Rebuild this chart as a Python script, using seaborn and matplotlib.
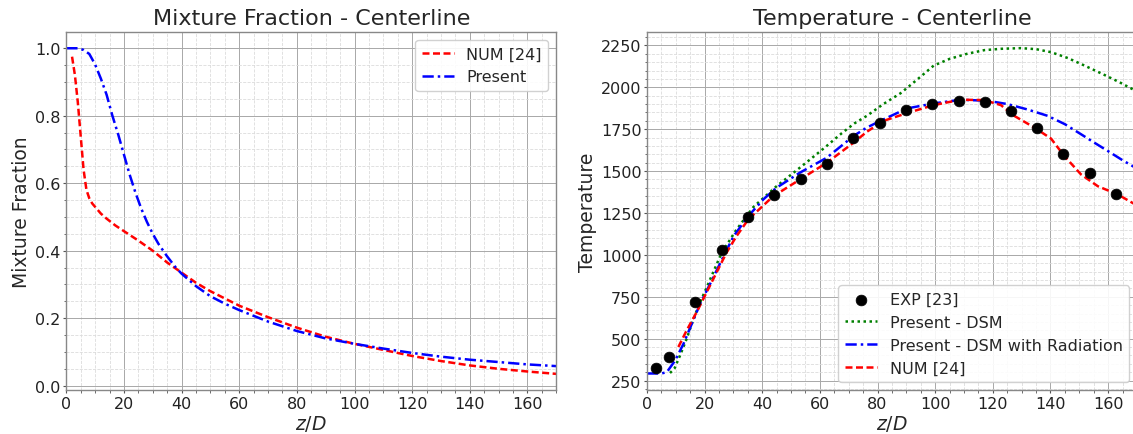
import numpy as np
import pandas as pd
import matplotlib
matplotlib.use("Agg")
import matplotlib.pyplot as plt
import seaborn as sns
from matplotlib.ticker import AutoMinorLocator

# ---------------- Data ----------------
# Mixture fraction (left)
mf_present_z = [0, 2, 4, 6, 8, 10, 12, 14, 16, 18, 20, 22, 24, 26, 28, 30, 32, 35, 38, 40,
                45, 50, 55, 60, 70, 80, 90, 100, 110, 120, 130, 140, 150, 160, 170]
mf_present_f = [1.0, 1.0, 1.0, 0.995, 0.983, 0.952, 0.91, 0.862, 0.8, 0.745, 0.685, 0.625,
                0.572, 0.525, 0.485, 0.45, 0.42, 0.383, 0.35, 0.332, 0.295, 0.265, 0.243,
                0.224, 0.19, 0.162, 0.14, 0.124, 0.11, 0.097, 0.086, 0.077, 0.07, 0.063, 0.058]
mf_num_z = [2, 3, 4, 5, 6, 7, 8, 9, 10, 12, 14, 17, 20, 25, 30, 35, 40, 45, 50, 60, 70,
            80, 90, 100, 110, 120, 130, 140, 150, 160, 170]
mf_num_f = [0.975, 0.92, 0.84, 0.74, 0.64, 0.58, 0.555, 0.54, 0.53, 0.51, 0.495, 0.475,
            0.458, 0.43, 0.4, 0.365, 0.335, 0.305, 0.28, 0.237, 0.203, 0.172, 0.145,
            0.124, 0.106, 0.088, 0.073, 0.06, 0.05, 0.042, 0.035]

# Temperature (right)
exp_z = [3.1, 7.8, 16.8, 25.9, 35.0, 44.1, 53.3, 62.5, 71.6, 80.7, 89.8, 98.9, 108.1,
         117.2, 126.3, 135.4, 144.5, 153.6, 162.7]
exp_T = [325, 392, 718, 1030, 1226, 1358, 1455, 1543, 1695, 1790, 1865, 1898, 1918,
         1912, 1856, 1760, 1604, 1486, 1366]

dsm_z = [8, 9.5, 11.5, 13.8, 16, 18, 20.8, 25.8, 30.9, 37, 44.7, 52, 57, 62, 67.5, 72,
         76.3, 82, 88, 94, 99.5, 105, 111, 117, 122.8, 129.7, 135, 140.2, 146, 151.8,
         158, 164, 170]
dsm_T = [295, 320, 400, 500, 610, 700, 809, 1008, 1147, 1287, 1406, 1506, 1575, 1645,
         1725, 1785, 1830, 1900, 1965, 2050, 2130, 2170, 2200, 2222, 2230, 2234, 2228,
         2210, 2175, 2130, 2080, 2030, 1975]

rad_z = [0, 3, 5, 6.9, 9.8, 12.7, 15.6, 18.5, 22, 25.4, 30, 35.1, 40.3, 44.9, 53, 62.4,
         71.7, 76.3, 81, 90.2, 99.5, 108.8, 118.1, 125.1, 132, 139, 145, 150.6, 155,
         159.9, 165, 170]
rad_T = [292, 292, 292, 300, 370, 470, 590, 710, 830, 950, 1110, 1230, 1330, 1400,
         1490, 1580, 1710, 1760, 1800, 1874, 1904, 1926, 1920, 1900, 1868, 1830, 1780,
         1720, 1672, 1620, 1565, 1515]

num_z = [10.9, 13.8, 17.3, 20.8, 24.3, 27.5, 31, 35.1, 43.8, 53.1, 62.4, 71.7, 76.3,
         82.1, 90.2, 99.5, 108.8, 117, 122.8, 127.4, 134.4, 140.2, 144.8, 150.6, 156.4,
         163.4, 170]
num_T = [450, 550, 660, 780, 900, 1010, 1110, 1210, 1350, 1450, 1550, 1670, 1735,
         1800, 1846, 1894, 1926, 1924, 1894, 1830, 1760, 1694, 1590, 1480, 1410,
         1360, 1295]

x_ticks = [0, 20, 40, 60, 80, 100, 120, 140, 160]

# ---------------- Style ----------------
sns.set_style("white")
plt.rcParams['font.family'] = ['DejaVu Sans']
plt.rcParams['mathtext.fontset'] = 'dejavusans'

fig = plt.figure(figsize=(11.33, 4.35), dpi=100)
ax1 = fig.add_axes([0.0585, 0.101, 0.4325, 0.823])
ax2 = fig.add_axes([0.571, 0.101, 0.4325, 0.823])

LW = 1.8
DASH = (0, (2.8, 1.4))
DASHDOT = (0, (4.5, 1.6, 1.0, 1.6))
DOT = (0, (1.0, 1.4))

# Left panel
sns.lineplot(x=mf_num_z, y=mf_num_f, ax=ax1, color='red', linestyle=DASH, lw=LW,
             label='NUM [24]', sort=False)
sns.lineplot(x=mf_present_z, y=mf_present_f, ax=ax1, color='blue', linestyle=DASHDOT, lw=LW,
             label='Present', sort=False)
ax1.set_title('Mixture Fraction - Centerline', fontsize=16)
ax1.set_ylabel('Mixture Fraction', fontsize=13.5, labelpad=3)
ax1.set_yticks([0.0, 0.2, 0.4, 0.6, 0.8, 1.0])

# Right panel
sns.scatterplot(x=exp_z, y=exp_T, ax=ax2, color='black', s=60, edgecolor='black',
                linewidth=0.5, label='EXP [23]', zorder=5)
sns.lineplot(x=dsm_z, y=dsm_T, ax=ax2, color='green', linestyle=DOT, lw=LW,
             label='Present - DSM', sort=False)
sns.lineplot(x=rad_z, y=rad_T, ax=ax2, color='blue', linestyle=DASHDOT, lw=LW,
             label='Present - DSM with Radiation', sort=False)
sns.lineplot(x=num_z, y=num_T, ax=ax2, color='red', linestyle=DASH, lw=LW,
             label='NUM [24]', sort=False)
ax2.set_title('Temperature - Centerline', fontsize=16)
ax2.set_ylabel('Temperature', fontsize=13.5, labelpad=3)
ax2.set_yticks([250, 500, 750, 1000, 1250, 1500, 1750, 2000, 2250])

for ax in (ax1, ax2):
    ax.set_xlim(0, 170)
    ax.set_xticks(x_ticks)
    ax.set_xlabel(r'$z/D$', fontsize=13.5, labelpad=2)
    ax.xaxis.set_minor_locator(AutoMinorLocator())
    ax.yaxis.set_minor_locator(AutoMinorLocator())
    ax.grid(which='major', color='#a8a8a8', linestyle='-', linewidth=0.7)
    ax.grid(which='minor', color='#dcdcdc', linestyle='--', linewidth=0.6)
    ax.set_axisbelow(True)
    ax.tick_params(which='major', direction='out', length=2.5, width=0.8, pad=1.5,
                   color='#555555', labelsize=11.5, labelcolor='#222222',
                   bottom=True, left=True)
    ax.tick_params(which='minor', direction='out', length=1.8, width=0.6,
                   color='#555555', bottom=True, left=True)
    for sp in ax.spines.values():
        sp.set_color('#888888')
        sp.set_linewidth(1.0)

ax1.set_ylim(-0.013, 1.048)
ax2.set_ylim(193, 2330)

leg1 = ax1.legend(loc='upper right', fontsize=11.5, frameon=True, handlelength=2.0)
h, l = ax2.get_legend_handles_labels()
order = [l.index(k) for k in ['EXP [23]', 'Present - DSM', 'Present - DSM with Radiation', 'NUM [24]']]
leg2 = ax2.legend([h[i] for i in order], [l[i] for i in order], loc='lower right',
                  fontsize=11.5, frameon=True, handlelength=2.0)
for lg in (leg1, leg2):
    lg.get_frame().set_edgecolor('#cccccc')
    lg.get_frame().set_alpha(0.9)

fig.savefig('out.png', dpi=100)
